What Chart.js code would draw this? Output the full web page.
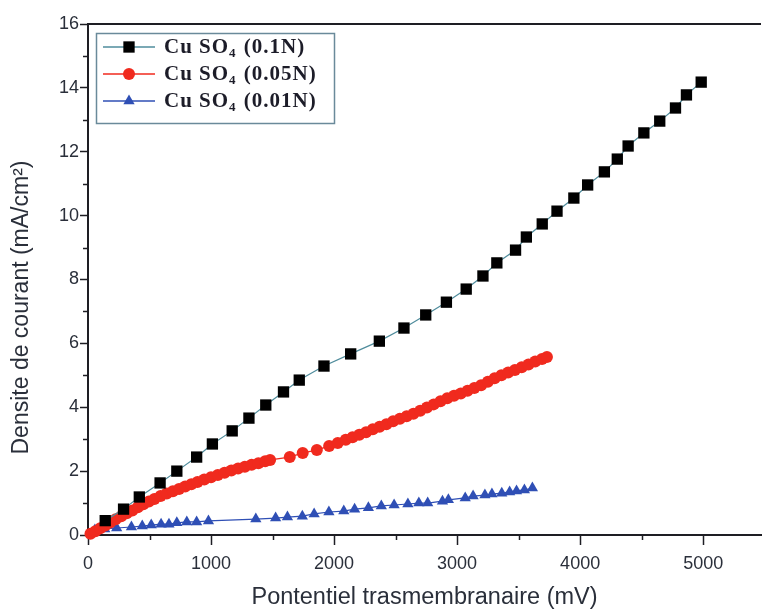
<!DOCTYPE html>
<html>
<head>
<meta charset="utf-8">
<script src="https://cdn.jsdelivr.net/npm/chart.js@4/dist/chart.umd.min.js"></script>
<style>
html,body{margin:0;padding:0;background:#fff;}
#wrap{width:769px;height:612px;}
</style>
</head>
<body>
<div id="wrap"><canvas id="c" width="769" height="612"></canvas></div>
<script>
// ---- data ----
const seriesLabels = ["0.1N", "0.05N", "0.01N"];

const blackX = [140, 289, 417, 586, 722, 883, 1011, 1172, 1308, 1445, 1589, 1717, 1918, 2135, 2368, 2568, 2745, 2913, 3074, 3210, 3323, 3475, 3563, 3692, 3812, 3949, 4061, 4197, 4302, 4390, 4518, 4647, 4775, 4864, 4984];
const blackY = [0.45, 0.81, 1.19, 1.63, 2.00, 2.44, 2.85, 3.26, 3.66, 4.07, 4.48, 4.85, 5.29, 5.67, 6.07, 6.48, 6.89, 7.29, 7.70, 8.11, 8.52, 8.92, 9.33, 9.74, 10.14, 10.55, 10.96, 11.37, 11.77, 12.18, 12.59, 12.96, 13.37, 13.78, 14.18];

const redX = [20, 60, 100, 140, 180, 225, 270, 315, 360, 405, 450, 495, 540, 590, 640, 690, 740, 790, 840, 890, 945, 1000, 1055, 1110, 1165, 1220, 1275, 1330, 1385, 1440, 1480,
              1640, 1745, 1860, 1960, 2030, 2095, 2150, 2205, 2260, 2315, 2370, 2425, 2480, 2535, 2590, 2645, 2700, 2755, 2810, 2865, 2920, 2975, 3030, 3085, 3140, 3195, 3250, 3305, 3360, 3415, 3470, 3525, 3580, 3635, 3690, 3730];
const redY = [0.04, 0.12, 0.21, 0.30, 0.39, 0.49, 0.59, 0.68, 0.77, 0.87, 0.96, 1.05, 1.13, 1.22, 1.30, 1.37, 1.44, 1.52, 1.59, 1.66, 1.74, 1.81, 1.88, 1.95, 2.02, 2.08, 2.14, 2.20, 2.25, 2.31, 2.35,
              2.44, 2.57, 2.66, 2.79, 2.88, 2.98, 3.06, 3.14, 3.22, 3.31, 3.39, 3.47, 3.56, 3.64, 3.72, 3.80, 3.89, 3.99, 4.09, 4.19, 4.28, 4.36, 4.43, 4.52, 4.60, 4.69, 4.80, 4.91, 5.00, 5.09, 5.17, 5.25, 5.34, 5.43, 5.51, 5.57];

const blueX = [56, 136, 233, 353, 441, 514, 594, 658, 722, 803, 883, 979,
               1364, 1525, 1621, 1742, 1838, 1958, 2079, 2167, 2279, 2384, 2488, 2600, 2689, 2761, 2881, 2929, 3066, 3130, 3226, 3283, 3363, 3427, 3483, 3547, 3612];
const blueY = [0.16, 0.19, 0.22, 0.25, 0.28, 0.31, 0.34, 0.34, 0.38, 0.41, 0.41, 0.44,
               0.50, 0.53, 0.56, 0.59, 0.66, 0.72, 0.75, 0.81, 0.85, 0.91, 0.94, 0.97, 1.00, 1.00, 1.06, 1.10, 1.16, 1.22, 1.25, 1.28, 1.31, 1.35, 1.38, 1.41, 1.47];

const xTicks = [0, 1000, 2000, 3000, 4000, 5000];
const yTicks = [0, 2, 4, 6, 8, 10, 12, 14, 16];
const xTitle = "Pontentiel trasmembranaire (mV)";
const yTitle = "Densite de courant (mA/cm\u00B2)";

// ---- helpers ----
function pts(xs, ys){ return xs.map((x,i)=>({x:x, y:ys[i]})); }

const BLACK_LINE = '#4f8c9c';
const RED = '#f02a1e';
const BLUE = '#2f4fb5';
const AXIS = '#1e1e24';
const TXT = '#2a2f3a';

const styles = [
  {line: BLACK_LINE, fill:'#000000', style:'rect', r:8},
  {line: RED, fill:RED, style:'circle', r:6},
  {line: BLUE, fill:BLUE, style:'triangle', r:6.5}
];

function drawMarker(ctx, style, x, y, r, color){
  ctx.fillStyle = color;
  ctx.beginPath();
  if (style === 'rect'){
    const s = Math.SQRT1_2 * r;
    ctx.rect(x - s, y - s, 2*s, 2*s);
  } else if (style === 'circle'){
    ctx.arc(x, y, r, 0, Math.PI*2);
  } else {
    const a = Math.PI/2, d = 2*Math.PI/3;
    ctx.moveTo(x + Math.cos(-a)*r, y + Math.sin(-a)*r);
    ctx.lineTo(x + Math.cos(-a+d)*r, y + Math.sin(-a+d)*r);
    ctx.lineTo(x + Math.cos(-a+2*d)*r, y + Math.sin(-a+2*d)*r);
    ctx.closePath();
  }
  ctx.fill();
}

const decorPlugin = {
  id: 'decor',
  afterDraw(chart){
    const ctx = chart.ctx;
    const area = chart.chartArea;
    const xs = chart.scales.x, ys = chart.scales.y;
    ctx.save();
    // top frame line
    ctx.strokeStyle = AXIS; ctx.lineWidth = 2;
    ctx.beginPath(); ctx.moveTo(area.left, area.top); ctx.lineTo(area.right, area.top); ctx.stroke();
    // minor ticks
    ctx.lineWidth = 1.5;
    for (let v = 500; v < xs.max; v += 1000){
      const px = Math.round(xs.getPixelForValue(v)) + 0.5;
      ctx.beginPath(); ctx.moveTo(px, area.bottom); ctx.lineTo(px, area.bottom + 5); ctx.stroke();
    }
    for (let v = 1; v < ys.max; v += 2){
      const py = Math.round(ys.getPixelForValue(v)) + 0.5;
      ctx.beginPath(); ctx.moveTo(area.left, py); ctx.lineTo(area.left - 5, py); ctx.stroke();
    }
    // y axis title
    ctx.save();
    ctx.translate(22, (area.top + area.bottom) / 2 + 28);
    ctx.rotate(-Math.PI / 2);
    ctx.fillStyle = TXT;
    ctx.font = '23px "Liberation Sans"';
    ctx.textAlign = 'center';
    ctx.textBaseline = 'middle';
    ctx.fillText(yTitle, 0, 0);
    ctx.restore();
    // legend box
    const bx = 96, by = 33, bw = 238, bh = 90;
    ctx.fillStyle = '#ffffff';
    ctx.fillRect(bx, by, bw, bh);
    ctx.strokeStyle = '#6a8a9a'; ctx.lineWidth = 1.5;
    ctx.strokeRect(bx + 0.5, by + 0.5, bw, bh);
    chart.data.datasets.forEach((ds, i) => {
      const st = styles[i];
      const y = 47 + i * 27;
      ctx.strokeStyle = st.line; ctx.lineWidth = 1.5;
      ctx.beginPath(); ctx.moveTo(103, y); ctx.lineTo(155, y); ctx.stroke();
      drawMarker(ctx, st.style, 129, y, st.r, st.fill);
      ctx.fillStyle = '#1c1c28';
      ctx.textBaseline = 'middle';
      ctx.textAlign = 'left';
      try { ctx.letterSpacing = '1px'; } catch(e) {}
      ctx.font = 'bold 21px "Liberation Serif"';
      let tx = 164;
      const p1 = 'Cu SO';
      ctx.fillText(p1, tx, y + 1);
      tx += ctx.measureText(p1).width;
      ctx.font = 'bold 13px "Liberation Serif"';
      ctx.fillText('4', tx, y + 7);
      tx += ctx.measureText('4').width + 1;
      ctx.font = 'bold 21px "Liberation Serif"';
      ctx.fillText(' (' + seriesLabels[i] + ')', tx, y + 1);
      try { ctx.letterSpacing = '0px'; } catch(e) {}
    });
    ctx.restore();
  }
};

const datasets = [
  {label: 'CuSO4 (' + seriesLabels[0] + ')', data: pts(blackX, blackY)},
  {label: 'CuSO4 (' + seriesLabels[1] + ')', data: pts(redX, redY)},
  {label: 'CuSO4 (' + seriesLabels[2] + ')', data: pts(blueX, blueY)}
].map((d, i) => Object.assign(d, {
  showLine: true,
  borderColor: styles[i].line,
  borderWidth: 1.2,
  backgroundColor: styles[i].fill,
  pointBackgroundColor: styles[i].fill,
  pointBorderColor: styles[i].fill,
  pointBorderWidth: 0,
  pointStyle: styles[i].style,
  pointRadius: styles[i].r,
  pointHoverRadius: styles[i].r,
  tension: 0,
  clip: false
}));

new Chart(document.getElementById('c'), {
  type: 'scatter',
  data: {datasets},
  plugins: [decorPlugin],
  options: {
    responsive: false,
    animation: false,
    devicePixelRatio: 1,
    layout: {padding: {top: 24, right: 0, left: 0, bottom: 0}},
    plugins: {legend: {display: false}, tooltip: {enabled: false}},
    scales: {
      x: {
        type: 'linear', min: 0, max: 5470,
        afterBuildTicks: (s) => { s.ticks = xTicks.map(v => ({value: v})); },
        afterFit: (s) => { s.height = 77; },
        ticks: {color: TXT, font: {family: 'Liberation Sans', size: 18}, padding: 8, maxRotation: 0, autoSkip: false,
                callback: (v) => String(v)},
        grid: {drawOnChartArea: false, drawTicks: true, tickLength: 10, tickColor: AXIS, tickWidth: 1.5},
        border: {display: true, color: AXIS, width: 2},
        title: {display: true, text: xTitle, color: TXT, font: {family: 'Liberation Sans', size: 23.5}, padding: {top: 0, bottom: 0}}
      },
      y: {
        type: 'linear', min: 0, max: 16,
        afterBuildTicks: (s) => { s.ticks = yTicks.map(v => ({value: v})); },
        afterFit: (s) => { s.width = 88; },
        ticks: {color: TXT, font: {family: 'Liberation Sans', size: 18}, padding: 1, autoSkip: false,
                callback: (v) => String(v)},
        grid: {drawOnChartArea: false, drawTicks: true, tickLength: 8, tickColor: AXIS, tickWidth: 1.5},
        border: {display: true, color: AXIS, width: 2},
        title: {display: false}
      }
    }
  }
});
</script>
</body>
</html>
